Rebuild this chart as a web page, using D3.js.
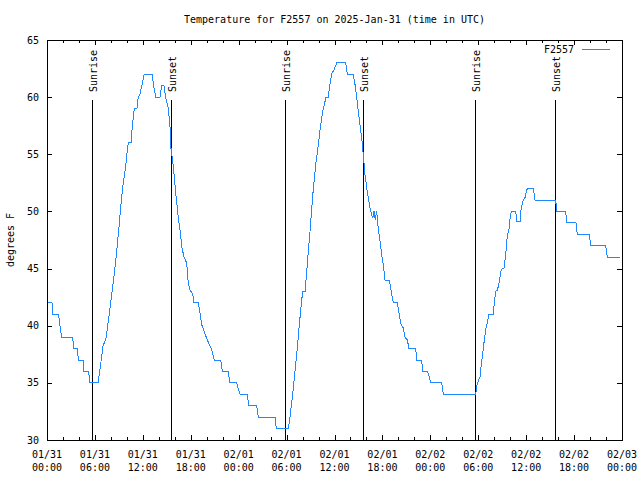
<!DOCTYPE html>
<html>
<head>
<meta charset="utf-8">
<script src="https://cdn.jsdelivr.net/npm/d3@7"></script>
<style>
  html, body { margin: 0; padding: 0; background: #fff; }
  svg { display: block; }
  text { font-family: "DejaVu Sans Mono", "Liberation Mono", monospace; font-size: 10px; fill: #000; }
</style>
</head>
<body>
<svg id="chart" width="640" height="480"></svg>
<script>
// ---- data (hours since 2025-01-31 00:00 UTC, degrees F) ----
const startDate = Date.UTC(2025, 0, 31, 0, 0);
const hours = [
  0.1, 0.63, 0.75, 1.44, 1.63, 1.82, 3.19, 3.38, 3.76, 3.94, 4.51, 4.63, 5.20, 5.38, 6.39,
  6.64, 7.01, 7.39, 7.64, 8.01, 8.43, 8.73, 9.02, 9.27, 9.55, 9.85, 10.11, 10.18, 10.52,
  10.68, 10.93, 11.27, 11.43, 11.65, 11.93, 12.18, 13.19, 13.31, 13.61, 14.15, 14.36, 14.65,
  14.86, 15.19, 15.40, 15.53, 15.82, 16.12, 16.44, 16.72, 16.87, 17.16, 17.49, 17.69, 17.91,
  18.24, 18.41, 18.95, 19.16, 19.37, 19.78, 20.00, 20.41, 20.62, 20.95, 21.75, 21.95, 22.75,
  22.83, 23.75, 23.95, 24.17, 25.08, 25.26, 26.26, 26.46, 28.55, 28.71, 30.22, 30.43, 30.84,
  31.27, 31.56, 31.84, 32.02, 32.31, 32.52, 32.72, 32.93, 33.15, 33.35, 33.65, 33.97, 34.27,
  34.60, 34.94, 35.22, 35.44, 35.69, 35.94, 36.28, 37.40, 37.60, 38.35, 38.57, 38.78, 38.98,
  39.19, 39.41, 39.61, 39.82, 40.11, 40.45, 40.78, 40.95, 41.11, 41.28, 41.48, 41.70, 41.91,
  42.11, 42.32, 42.86, 43.16, 43.36, 43.86, 44.08, 44.29, 44.62, 44.83, 45.12, 45.33, 46.17,
  46.29, 46.92, 47.04, 47.67, 47.87, 48.08, 49.42, 49.62, 53.68, 53.81, 54.01, 54.22, 54.35,
  54.56, 54.76, 54.97, 55.18, 55.35, 55.89, 56.01, 56.19, 56.39, 56.60, 56.81, 57.01, 57.22,
  57.35, 57.48, 57.64, 57.85, 57.98, 58.14, 58.69, 58.82, 59.23, 59.35, 59.57, 59.85, 60.07,
  60.23, 60.89, 61.11, 63.70, 63.82, 64.95, 65.08, 66.24, 66.40, 67.91, 68.08, 69.96, 70.16,
  71.8
];
const temps = [
  42, 42, 41, 41, 40, 39, 39, 38, 38, 37, 37, 36, 36, 35, 35,
  36.2, 38.2, 38.9, 40.2, 42.2, 44.6, 46.5, 48.7, 50.7, 52.5, 53.9, 55.7, 56, 56,
  57.4, 59, 59, 60, 60.3, 61.2, 62, 62, 61.2, 60, 60, 61, 61,
  60, 59, 57.4, 55.5, 53.9, 51.6, 49.5, 48, 46.9, 46, 45.5, 43.7, 43.1,
  42.8, 42, 42, 41.1, 40.1, 39.3, 38.9, 38.2, 37.9, 37, 37, 36, 36,
  35, 35, 34.5, 34, 34, 33, 33, 32, 32, 31, 31, 32, 34.5,
  37.5, 39.8, 41.9, 43, 43, 44.7, 46.5, 48.2, 50.3, 52, 54.1, 55.8, 57.6,
  59, 60, 60, 61.2, 62.1, 62.4, 63, 63, 62, 62, 61.1, 60, 58.7,
  57.6, 56.4, 54.9, 53.2, 51.7, 50.3, 49.4, 50, 49.3, 50, 48.5, 47.4, 46.2,
  45.3, 44, 44, 42.8, 42, 42, 41.1, 40.2, 39.8, 39, 38.75, 38, 38,
  37, 37, 36, 36, 35.5, 35, 35, 34, 34, 34.7, 35.2, 35.5, 36.4,
  37.6, 38.75, 39.8, 40.4, 41, 41, 42, 43, 43.1, 43.7, 44.7, 45, 45,
  45.75, 46.6, 47.9, 48.4, 49.4, 50, 50, 49.1, 49.1, 50.1, 50.9, 51.2, 51.9,
  52, 52, 51, 51, 50, 50, 49, 49, 48, 48, 47, 47, 46,
  46
];
const sunriseHours = [5.67, 29.77, 53.63];
const sunsetHours = [15.56, 39.61, 63.65];
const yTicks = [30, 35, 40, 45, 50, 55, 60, 65];
const seriesName = "F2557";
const titleText = "Temperature for F2557 on 2025-Jan-31 (time in UTC)";
const yLabel = "degrees F";

// ---- chart ----
const toDate = h => new Date(startDate + h * 3600 * 1000);
const data = hours.map((h, i) => ({ t: toDate(h), v: temps[i] }));

const L = 47, R = 622, T = 40, B = 440;
const svg = d3.select("#chart");

const x = d3.scaleUtc().domain([toDate(0), toDate(72)]).range([L, R]);
const y = d3.scaleLinear().domain([30, 65]).range([B, T]);

const majorTicks = d3.utcHour.every(6).range(toDate(0), toDate(72.01));
const minorTicks = d3.utcHour.every(2).range(toDate(0), toDate(72.01))
  .filter(d => d.getUTCHours() % 6 !== 0);

const fmtDay = d3.utcFormat("%m/%d");
const fmtTime = d3.utcFormat("%H:%M");

// title
svg.append("text").attr("x", (L + R) / 2).attr("y", 23)
  .attr("text-anchor", "middle").text(titleText);

// y axis label
svg.append("text")
  .attr("transform", `translate(14,${(T + B) / 2}) rotate(-90)`)
  .attr("text-anchor", "middle").text(yLabel);

const g = svg.append("g").attr("shape-rendering", "crispEdges");

// ticks bottom/top (major 5px, minor 3px), left/right major
const tickG = g.append("g").attr("stroke", "#000").attr("stroke-width", 1);
majorTicks.forEach(d => {
  const xx = Math.round(x(d)) + 0.5;
  tickG.append("line").attr("x1", xx).attr("x2", xx).attr("y1", B).attr("y2", B - 5);
  tickG.append("line").attr("x1", xx).attr("x2", xx).attr("y1", T).attr("y2", T + 5);
});
minorTicks.forEach(d => {
  const xx = Math.round(x(d)) + 0.5;
  tickG.append("line").attr("x1", xx).attr("x2", xx).attr("y1", B).attr("y2", B - 3);
  tickG.append("line").attr("x1", xx).attr("x2", xx).attr("y1", T).attr("y2", T + 3);
});
yTicks.forEach(v => {
  const yy = Math.round(y(v)) + 0.5;
  tickG.append("line").attr("x1", L).attr("x2", L + 5).attr("y1", yy).attr("y2", yy);
  tickG.append("line").attr("x1", R).attr("x2", R - 5).attr("y1", yy).attr("y2", yy);
});

// tick labels
majorTicks.forEach(d => {
  const xx = x(d);
  svg.append("text").attr("x", xx).attr("y", 458).attr("text-anchor", "middle").text(fmtDay(d));
  svg.append("text").attr("x", xx).attr("y", 471).attr("text-anchor", "middle").text(fmtTime(d));
});
yTicks.forEach(v => {
  svg.append("text").attr("x", 39).attr("y", y(v)).attr("dy", "0.35em")
    .attr("text-anchor", "end").text(v);
});

// sunrise / sunset markers
const markers = sunriseHours.map(h => ({ h, label: "Sunrise" }))
  .concat(sunsetHours.map(h => ({ h, label: "Sunset" })));
markers.forEach(m => {
  const xx = Math.round(x(toDate(m.h))) + 0.5;
  g.append("line").attr("x1", xx).attr("x2", xx).attr("y1", 100).attr("y2", B)
    .attr("stroke", "#000").attr("stroke-width", 1);
  svg.append("text")
    .attr("transform", `translate(${xx + 4.5},92) rotate(-90)`)
    .attr("text-anchor", "start").text(m.label);
});

// data line
const line = d3.line().x(d => x(d.t)).y(d => y(d.v));
svg.append("path").datum(data)
  .attr("fill", "none").attr("stroke", "#1e88ff").attr("stroke-width", 1)
  .attr("shape-rendering", "crispEdges")
  .attr("d", line);

// border
g.append("rect").attr("x", L + 0.5).attr("y", T + 0.5)
  .attr("width", R - L).attr("height", B - T)
  .attr("fill", "none").attr("stroke", "#000").attr("stroke-width", 1);

// legend
svg.append("text").attr("x", 574).attr("y", 49).attr("dy", "0.35em")
  .attr("text-anchor", "end").text(seriesName);
g.append("line").attr("x1", 582).attr("x2", 610).attr("y1", 49.5).attr("y2", 49.5)
  .attr("stroke", "#1e88ff").attr("stroke-width", 1);
</script>
</body>
</html>
